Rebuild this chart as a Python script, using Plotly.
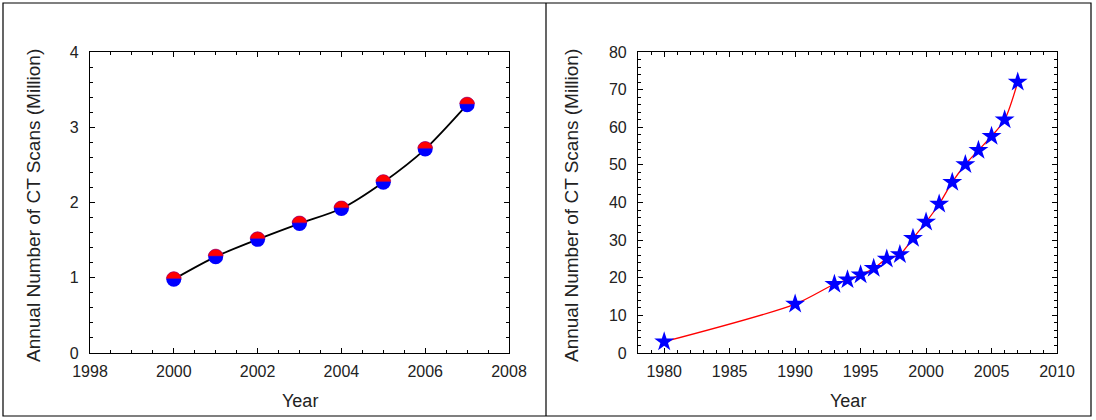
import numpy as np
import plotly.graph_objects as go

# ---------------- data ----------------
left_years = [2000, 2001, 2002, 2003, 2004, 2005, 2006, 2007]
left_scans = [0.98, 1.28, 1.51, 1.72, 1.92, 2.27, 2.71, 3.30]

right_years = [1980, 1990, 1993, 1994, 1995, 1996, 1997, 1998, 1999,
               2000, 2001, 2002, 2003, 2004, 2005, 2006, 2007]
right_scans = [3.0, 13.0, 18.3, 19.5, 20.8, 22.5, 25.0, 26.2, 30.5,
               34.8, 39.6, 45.4, 50.1, 53.9, 57.6, 62.0, 72.0]

x_title = "Year"
y_title = "Annual Number of CT Scans (Million)"

W, H = 1096, 420
FONT = "Liberation Sans, Arial, sans-serif"
TXT = "#222222"

fig = go.Figure()

# left panel: smooth black line + blue circles with red top half
fig.add_trace(go.Scatter(x=left_years, y=left_scans, mode="lines",
                         line=dict(color="black", width=1.8, shape="spline", smoothing=0.8),
                         xaxis="x", yaxis="y", showlegend=False, hoverinfo="skip"))
fig.add_trace(go.Scatter(x=left_years, y=left_scans, mode="markers",
                         marker=dict(symbol="circle", size=15, color="#0000ff",
                                     line=dict(width=0)),
                         xaxis="x", yaxis="y", showlegend=False))

# right panel: red spline + blue stars
fig.add_trace(go.Scatter(x=right_years, y=right_scans, mode="lines",
                         line=dict(color="#ff0000", width=1.3, shape="spline", smoothing=0.8),
                         xaxis="x2", yaxis="y2", showlegend=False, hoverinfo="skip"))
fig.add_trace(go.Scatter(x=right_years, y=right_scans, mode="markers",
                         marker=dict(symbol="star", size=15, color="#0000ff",
                                     line=dict(width=0)),
                         xaxis="x2", yaxis="y2", showlegend=False))

# red upper half caps on the left-panel markers (pixel-sized shapes anchored at data points)
r = 7.5
chord_y = 0.8
ang = np.linspace(0, np.pi, 25)
top_pts = [(r * np.cos(a), r * np.sin(a)) for a in ang if r * np.sin(a) >= chord_y]
half_w = np.sqrt(r * r - chord_y * chord_y)
poly = [(half_w, chord_y)] + top_pts + [(-half_w, chord_y)]
path = "M " + " L ".join(f"{px:.2f},{py:.2f}" for px, py in poly) + " Z"

shapes = []
for xv, yv in zip(left_years, left_scans):
    shapes.append(dict(type="path", xref="x", yref="y",
                       xsizemode="pixel", ysizemode="pixel",
                       xanchor=xv, yanchor=yv, path=path,
                       fillcolor="#ff0000", line=dict(color="#aa0066", width=0.6),
                       layer="above"))

# panel frames
shapes.append(dict(type="rect", xref="paper", yref="paper",
                   x0=3 / W, x1=1091 / W, y0=1 - 416 / H, y1=1 - 3 / H,
                   line=dict(color="black", width=1.2), fillcolor="rgba(0,0,0,0)", layer="below"))
shapes.append(dict(type="line", xref="paper", yref="paper",
                   x0=546 / W, x1=546 / W, y0=1 - 416 / H, y1=1 - 3 / H,
                   line=dict(color="black", width=1.2)))

ydom = [1 - 353 / H, 1 - 52 / H]


def axis_common():
    return dict(showline=True, linecolor="black", linewidth=1.2, mirror="allticks",
                ticks="inside", ticklen=5, tickwidth=1, tickcolor="black",
                showgrid=False, zeroline=False, automargin=False,
                tickfont=dict(family=FONT, size=16, color=TXT),
                minor=dict(ticks="inside", ticklen=3, tickwidth=1, tickcolor="black",
                           showgrid=False))


xa = axis_common()
xa.update(domain=[90 / W, 509 / W], range=[1998, 2008], tick0=1998, dtick=2, anchor="y",
          ticklabelstandoff=4)
xa["minor"].update(dtick=0.5, tick0=1998)
ya = axis_common()
ya.update(domain=ydom, range=[0, 4], tick0=0, dtick=1, anchor="x", ticklabelstandoff=7)
ya["minor"].update(dtick=0.2, tick0=0)

xb = axis_common()
xb.update(domain=[638 / W, 1057 / W], range=[1978, 2010], tick0=1980, dtick=5, anchor="y2",
          ticklabelstandoff=4)
xb["minor"].update(dtick=1, tick0=1978)
yb = axis_common()
yb.update(domain=ydom, range=[0, 80], tick0=0, dtick=10, anchor="x2", ticklabelstandoff=7)
yb["minor"].update(dtick=2, tick0=0)

annotations = [
    dict(text=x_title, xref="paper", yref="paper", x=299.5 / W, y=1 - 401 / H,
         showarrow=False, font=dict(family=FONT, size=18, color=TXT),
         xanchor="center", yanchor="middle"),
    dict(text=x_title, xref="paper", yref="paper", x=847.5 / W, y=1 - 401 / H,
         showarrow=False, font=dict(family=FONT, size=18, color=TXT),
         xanchor="center", yanchor="middle"),
    dict(text=y_title, xref="paper", yref="paper", x=33 / W, y=1 - 206 / H, textangle=-90,
         showarrow=False, font=dict(family=FONT, size=19, color=TXT),
         xanchor="center", yanchor="middle"),
    dict(text=y_title, xref="paper", yref="paper", x=571 / W, y=1 - 206 / H, textangle=-90,
         showarrow=False, font=dict(family=FONT, size=19, color=TXT),
         xanchor="center", yanchor="middle"),
]

fig.update_layout(width=W, height=H, margin=dict(l=0, r=0, t=0, b=0, autoexpand=False),
                  paper_bgcolor="white", plot_bgcolor="white",
                  xaxis=xa, yaxis=ya, xaxis2=xb, yaxis2=yb,
                  shapes=shapes, annotations=annotations, showlegend=False)

fig.write_html("out.html", config={"displayModeBar": False},
               post_script="document.body.style.margin='0px';")
